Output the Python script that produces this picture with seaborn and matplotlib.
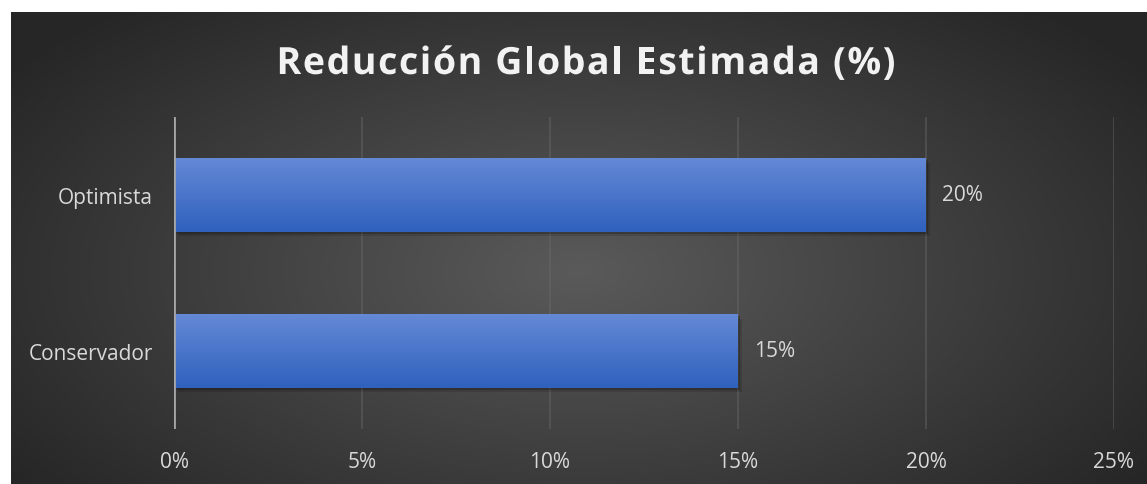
import numpy as np
import pandas as pd
import matplotlib
matplotlib.use("Agg")
import matplotlib.pyplot as plt
import matplotlib.patheffects as pe
from matplotlib.colors import LinearSegmentedColormap
from matplotlib.font_manager import FontProperties
import seaborn as sns

categories = ["Optimista", "Conservador"]
values = [20, 15]
xticks = [0, 5, 10, 15, 20, 25]
xtick_labels = ["0%", "5%", "10%", "15%", "20%", "25%"]
title = "Reducción Global Estimada (%)"

sns.set_theme(style="white")
plt.rcParams["font.family"] = ["Open Sans", "DejaVu Sans"]

W, H = 1147, 485
fig = plt.figure(figsize=(W / 100, H / 100), dpi=100)
fig.patch.set_facecolor("white")

# background radial gradient
bg = fig.add_axes([11 / W, 0, 1 - 11 / W, 1 - 13 / H])
bg.set_axis_off()
yy, xx = np.mgrid[0:1:300j, 0:1:700j]
r = np.sqrt(((xx - 0.5) / 0.62) ** 2 + ((yy - 0.55) / 0.75) ** 2)
r = np.clip(r, 0, 1)
bg_cmap = LinearSegmentedColormap.from_list("bg", ["#5a5a5a", "#262626"])
bg.imshow(r, cmap=bg_cmap, aspect="auto", extent=[0, 1, 0, 1], vmin=0, vmax=1)
bg.set_xlim(0, 1)
bg.set_ylim(0, 1)

ax = fig.add_axes([174 / W, 1 - 430 / H, (1114 - 174) / W, (430 - 118) / H])
ax.patch.set_alpha(0)

df = pd.DataFrame({"cat": categories, "val": values})
sns.barplot(data=df, x="val", y="cat", orient="h", color="#4472C4",
            width=0.47, linewidth=0, edgecolor="none", ax=ax, zorder=3)

ax.set_xlim(0, 25)
ax.set_ylim(1.5, -0.5)
ax.set_xticks(xticks)
ax.set_xticklabels(xtick_labels)
ax.set_xlabel("")
ax.set_ylabel("")
for s in ax.spines.values():
    s.set_visible(False)
ax.tick_params(axis="both", length=0, colors="#d9d9d9", labelsize=15)
ax.tick_params(axis="x", pad=16)
ax.tick_params(axis="y", pad=15)
for lbl in ax.get_xticklabels() + ax.get_yticklabels():
    lbl.set_color("#d9d9d9")

for x in xticks[1:]:
    ax.axvline(x, color="#6a6a6a", lw=1.2, alpha=0.5, zorder=1)
ax.axvline(0, color="#a6a6a6", lw=2, zorder=5)

# gradient fill on bars + soft shadow
bar_cmap = LinearSegmentedColormap.from_list("bar", ["#6489d6", "#2f61bd"])
grad = np.linspace(0, 1, 100).reshape(-1, 1)
for p, v in zip(ax.patches, values):
    x0, y0 = p.get_x(), p.get_y()
    w, h = p.get_width(), p.get_height()
    p.set_path_effects([pe.SimplePatchShadow(offset=(3, -3), shadow_rgbFace="black", alpha=0.12),
                        pe.SimplePatchShadow(offset=(1.5, -1.5), shadow_rgbFace="black", alpha=0.2),
                        pe.Normal()])
    im = ax.imshow(grad, cmap=bar_cmap, aspect="auto",
                   extent=[x0, x0 + w, y0 + h, y0], zorder=4)
    im.set_clip_path(p)
    ax.text(x0 + w + 0.42, y0 + h / 2, f"{v}%", color="#d9d9d9",
            fontsize=15, va="center", ha="left", zorder=6)

ax.set_xlim(0, 25)
ax.set_ylim(1.5, -0.5)

# title with letter spacing, drawn char by char
fp = FontProperties(family=["Open Sans", "DejaVu Sans"], weight="bold", size=27)
renderer = fig.canvas.get_renderer()

def adv(s):
    return renderer.get_text_width_height_descent(s, fp, ismath=False)[0]

widths = []
for ch in title:
    if ch == " ":
        widths.append(adv("x x") - adv("xx"))
    else:
        widths.append(adv(ch))
target_w = 896 - 277
gap = (target_w - sum(widths)) / (len(title) - 1)
xpos = 586 - target_w / 2
ybase = H - 75
for ch, wch in zip(title, widths):
    if ch != " ":
        fig.text(xpos / W, ybase / H, ch, ha="left", va="baseline",
                 fontproperties=fp, color="#f2f2f2",
                 path_effects=[pe.SimpleLineShadow(offset=(1.5, -1.5), shadow_color="black", alpha=0.5),
                               pe.Normal()])
    xpos += wch + gap

fig.savefig("out.png", dpi=100, facecolor=fig.get_facecolor())
